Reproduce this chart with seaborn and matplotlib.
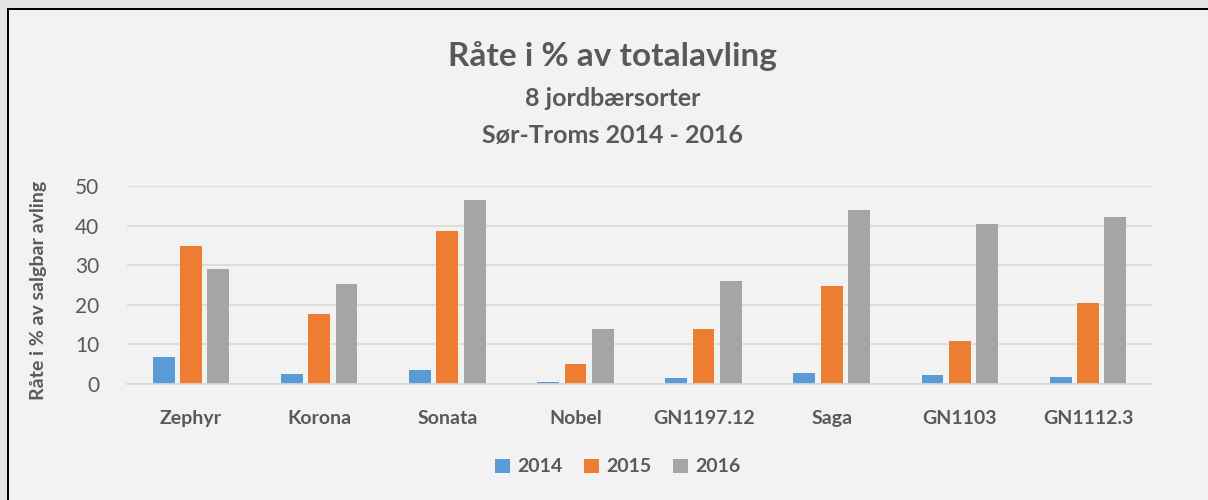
import matplotlib
matplotlib.use("Agg")
import matplotlib.pyplot as plt
import seaborn as sns
import pandas as pd
from matplotlib.patches import Rectangle

categories = ["Zephyr", "Korona", "Sonata", "Nobel", "GN1197.12", "Saga", "GN1103", "GN1112.3"]
years = ["2014", "2015", "2016"]
v2014 = [6.8, 2.5, 3.5, 0.5, 1.5, 2.8, 2.2, 1.7]
v2015 = [34.8, 17.8, 38.6, 5.0, 13.8, 24.7, 10.9, 20.5]
v2016 = [29.0, 25.2, 46.5, 14.0, 26.0, 43.9, 40.4, 42.1]
yticks = [0, 10, 20, 30, 40, 50]

df = pd.DataFrame({
    "sort": categories * 3,
    "year": [years[0]] * 8 + [years[1]] * 8 + [years[2]] * 8,
    "value": v2014 + v2015 + v2016,
})

sns.set_theme(style="white")
plt.rcParams["font.family"] = ["Lato", "DejaVu Sans"]
txt = "#595959"
colors = ["#5b9bd5", "#ed7d31", "#a5a5a5"]

W, H = 1208, 500
fig = plt.figure(figsize=(W / 100, H / 100), dpi=100)
fig.patch.set_facecolor("#f2f2f2")

# background axes in pixel coordinates for the outer frame (filled strips only)
bg = fig.add_axes([0, 0, 1, 1])
bg.set_zorder(0)
bg.set_xlim(0, W)
bg.set_ylim(H, 0)
bg.axis("off")
bg.add_patch(Rectangle((0, 0), W, 8, facecolor="#e4e4e4", edgecolor="none", linewidth=0))
bg.add_patch(Rectangle((0, 0), 7, H, facecolor="#e4e4e4", edgecolor="none", linewidth=0))
bg.add_patch(Rectangle((7, 8), W - 7, 2, facecolor="black", edgecolor="none", linewidth=0))
bg.add_patch(Rectangle((7, 8), 2, H - 8, facecolor="black", edgecolor="none", linewidth=0))

ax = fig.add_axes([127 / W, (H - 384) / H, 1025 / W, 198 / H])
ax.set_zorder(2)
ax.set_facecolor("none")
sns.barplot(data=df, x="sort", y="value", hue="year", palette=colors, width=0.64, gap=0.2,
            ax=ax, legend=True, edgecolor="none", saturation=1)
ax.set_xlim(-0.5, 7.5)
ax.set_ylim(0, 50)
ax.set_yticks(yticks)
ax.set_yticklabels([str(t) for t in yticks], fontsize=15, color=txt)
ax.grid(axis="y", color="#d9d9d9", linewidth=1.2)
ax.set_axisbelow(True)
for s in ["top", "right", "left"]:
    ax.spines[s].set_visible(False)
ax.spines["bottom"].set_color("#d9d9d9")
ax.spines["bottom"].set_linewidth(1.2)
ax.tick_params(axis="x", length=0, pad=19)
ax.tick_params(axis="y", length=0, pad=20)
for lab in ax.get_xticklabels():
    lab.set_fontweight("bold")
    lab.set_fontsize(14)
    lab.set_color(txt)
ax.set_xlabel("")
ax.set_ylabel("")
fig.text(39 / W, 1 - 290 / H, "Råte i % av salgbar avling", rotation=90, ha="center", va="center",
         fontsize=14, fontweight="bold", color=txt)

fig.text(613 / W, 1 - 56 / H, "Råte i % av totalavling", ha="center", va="center",
         fontsize=24, fontweight="bold", color=txt)
fig.text(613 / W, 1 - 98 / H, "8 jordbærsorter", ha="center", va="center",
         fontsize=18, fontweight="bold", color=txt)
fig.text(613 / W, 1 - 135 / H, "Sør-Troms 2014 - 2016", ha="center", va="center",
         fontsize=18, fontweight="bold", color=txt)

leg = ax.legend(loc="center", bbox_to_anchor=(618 / W, 1 - 467 / H), bbox_transform=fig.transFigure,
                ncol=3, frameon=False, handlelength=0.75, handleheight=0.75, handletextpad=0.4,
                columnspacing=1.1, prop={"weight": "bold", "size": 14})
for t in leg.get_texts():
    t.set_color(txt)

fig.savefig("out.png", dpi=100, facecolor=fig.get_facecolor())
